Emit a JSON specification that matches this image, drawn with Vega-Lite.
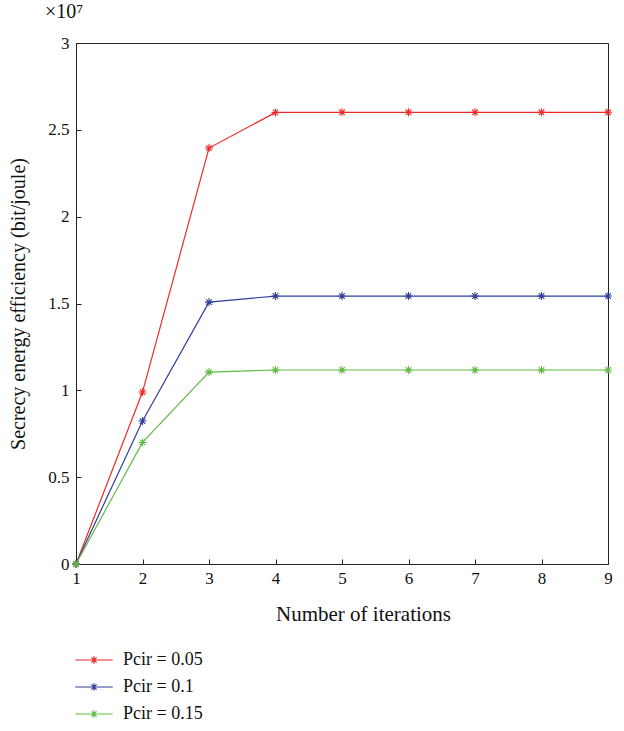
{
  "$schema": "https://vega.github.io/schema/vega-lite/v6.json",
  "width": 532,
  "height": 521,
  "padding": {"left": 8, "top": 2, "right": 2, "bottom": 5},
  "background": "white",
  "title": {"text": "×10⁷", "anchor": "start", "frame": "group", "dx": -31, "offset": 12, "font": "Liberation Serif", "fontSize": 20, "fontWeight": "normal", "color": "#111"},
  "config": {
    "view": {"stroke": "#222", "strokeWidth": 1},
    "font": "Liberation Serif",
    "axis": {"grid": false, "domainColor": "#222", "tickColor": "#222", "tickWidth": 1, "labelColor": "#111", "titleColor": "#111", "labelFont": "Liberation Serif", "titleFont": "Liberation Serif", "labelFontSize": 17, "titleFontSize": 20, "titleFontWeight": "normal", "tickSize": -5}
  },
  "data": {"values": [
    {"series": "Pcir = 0.05", "iter": 1, "value": 0},
    {"series": "Pcir = 0.05", "iter": 2, "value": 9900000},
    {"series": "Pcir = 0.05", "iter": 3, "value": 23950000},
    {"series": "Pcir = 0.05", "iter": 4, "value": 26000000},
    {"series": "Pcir = 0.05", "iter": 5, "value": 26010000},
    {"series": "Pcir = 0.05", "iter": 6, "value": 26010000},
    {"series": "Pcir = 0.05", "iter": 7, "value": 26010000},
    {"series": "Pcir = 0.05", "iter": 8, "value": 26010000},
    {"series": "Pcir = 0.05", "iter": 9, "value": 26010000},
    {"series": "Pcir = 0.1", "iter": 1, "value": 0},
    {"series": "Pcir = 0.1", "iter": 2, "value": 8230000},
    {"series": "Pcir = 0.1", "iter": 3, "value": 15080000},
    {"series": "Pcir = 0.1", "iter": 4, "value": 15430000},
    {"series": "Pcir = 0.1", "iter": 5, "value": 15430000},
    {"series": "Pcir = 0.1", "iter": 6, "value": 15430000},
    {"series": "Pcir = 0.1", "iter": 7, "value": 15430000},
    {"series": "Pcir = 0.1", "iter": 8, "value": 15430000},
    {"series": "Pcir = 0.1", "iter": 9, "value": 15430000},
    {"series": "Pcir = 0.15", "iter": 1, "value": 0},
    {"series": "Pcir = 0.15", "iter": 2, "value": 7000000},
    {"series": "Pcir = 0.15", "iter": 3, "value": 11050000},
    {"series": "Pcir = 0.15", "iter": 4, "value": 11170000},
    {"series": "Pcir = 0.15", "iter": 5, "value": 11170000},
    {"series": "Pcir = 0.15", "iter": 6, "value": 11170000},
    {"series": "Pcir = 0.15", "iter": 7, "value": 11170000},
    {"series": "Pcir = 0.15", "iter": 8, "value": 11170000},
    {"series": "Pcir = 0.15", "iter": 9, "value": 11170000}
  ]},
  "encoding": {
    "x": {"field": "iter", "type": "quantitative", "scale": {"domain": [1, 9], "nice": false, "zero": false},
          "axis": {"title": "Number of iterations", "values": [1,2,3,4,5,6,7,8,9], "labelPadding": 11, "titlePadding": 17, "titleFontSize": 21, "titleX": 287, "labelFlush": false}},
    "y": {"field": "value", "type": "quantitative", "scale": {"domain": [0, 30000000], "nice": false},
          "axis": {"title": "Secrecy energy efficiency (bit/joule)", "values": [0,5000000,10000000,15000000,20000000,25000000,30000000], "labelExpr": "'' + (datum.value / 10000000)", "labelPadding": 12, "titlePadding": 19, "labelFlush": false}},
    "color": {"field": "series", "type": "nominal",
      "scale": {"domain": ["Pcir = 0.05", "Pcir = 0.1", "Pcir = 0.15"], "range": ["#ee2a2a", "#2f3f9e", "#62bb46"]},
      "legend": {"title": null, "orient": "bottom", "direction": "vertical", "offset": 27,
                 "symbolType": "M-2.5,0H2.5M0,-0.5V0.5M-0.35,-0.35L0.35,0.35M-0.35,0.35L0.35,-0.35", "symbolSize": 225, "symbolStrokeWidth": 1.2, "symbolOffset": 9,
                 "labelFont": "Liberation Serif", "labelFontSize": 18, "labelColor": "#111", "labelOffset": 20, "rowPadding": 9, "padding": 0}}
  },
  "layer": [
    {"mark": {"type": "line", "strokeWidth": 1.2}},
    {"mark": {"type": "point", "shape": "M0,-1V1M-1,0H1M-0.7,-0.7L0.7,0.7M-0.7,0.7L0.7,-0.7", "filled": false, "size": 64, "strokeWidth": 1.1, "opacity": 1}}
  ]
}
